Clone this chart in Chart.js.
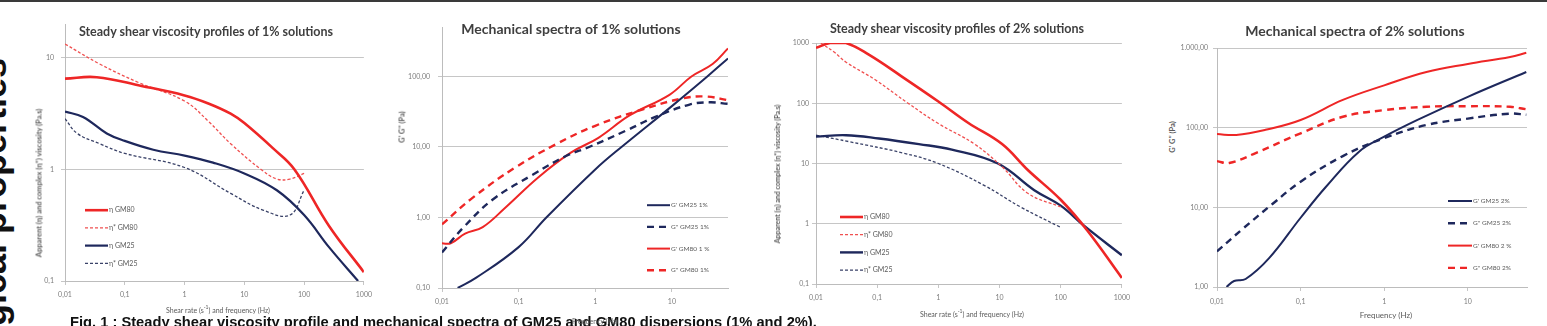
<!DOCTYPE html>
<html>
<head>
<meta charset="utf-8">
<script src="https://cdn.jsdelivr.net/npm/chart.js@4.4.0/dist/chart.umd.min.js"></script>
<style>
  body { margin: 0; width: 1547px; height: 326px; background: #fff; position: relative; overflow: hidden; font-family: Lato, "Open Sans", sans-serif; }
  .t { position: absolute; white-space: nowrap; }
  .ctitle { font-weight: bold; color: #3f3f3f; transform: translate(-50%, -50%); }
  .ytitle { font-weight: bold; color: #5a5a5a; transform: translate(-50%, -50%) rotate(-90deg); }
  .xtitle { color: #5a5a5a; transform: translate(-50%, -50%); }
  canvas { position: absolute; }
  #topline { position: absolute; left: 0; top: 0; width: 1547px; height: 2px; background: #3a3a3a; }
  #side { position: absolute; left: 0; top: 0; font-family: "Liberation Sans", Arial, sans-serif; font-weight: bold; font-size: 36px; line-height: 36px; color: #111; transform-origin: 0 0; transform: translate(-24px, 326px) rotate(-90deg); white-space: nowrap; }
  #caption { position: absolute; left: 70px; top: 314px; font-family: "Liberation Sans", Arial, sans-serif; font-weight: bold; font-size: 14.7px; line-height: 17px; color: #111; white-space: nowrap; }
</style>
</head>
<body>
<div id="topline"></div>
<div id="side">gical properties</div>

<canvas id="c1" width="353" height="293" style="left:25px;top:13px"></canvas>
<canvas id="c2" width="336" height="298" style="left:402px;top:15px"></canvas>
<canvas id="c3" width="360" height="276" style="left:776px;top:33px"></canvas>
<canvas id="c4" width="360" height="274" style="left:1177px;top:38px"></canvas>

<div class="t ctitle" style="left:206px;top:31px;font-size:12.5px">Steady shear viscosity profiles of 1% solutions</div>
<div class="t ctitle" style="left:571px;top:28px;font-size:14px">Mechanical spectra of 1% solutions</div>
<div class="t ctitle" style="left:957px;top:28px;font-size:12.5px">Steady shear viscosity profiles of 2% solutions</div>
<div class="t ctitle" style="left:1355px;top:30px;font-size:14px">Mechanical spectra of 2% solutions</div>

<div class="t ytitle" style="left:39px;top:183px;font-size:7.5px">Apparent (η) and complex (η*) viscosity (Pa.s)</div>
<div class="t ytitle" style="left:402px;top:127px;font-size:7.5px">G' G'' (Pa)</div>
<div class="t ytitle" style="left:777px;top:174px;font-size:7px">Apparent (η) and complex (η*) viscosity (Pa.s)</div>
<div class="t ytitle" style="left:1172px;top:137px;font-size:7.5px">G' G'' (Pa)</div>

<div class="t xtitle" style="left:218px;top:309px;font-size:7px">Shear rate (s<sup style="font-size:5px">-1</sup>) and frequency (Hz)</div>
<div class="t xtitle" style="left:972px;top:313px;font-size:7px">Shear rate (s<sup style="font-size:5px">-1</sup>) and frequency (Hz)</div>
<div class="t xtitle" style="left:1386px;top:315px;font-size:8px">Frequency (Hz)</div>

<div id="caption">Fig. 1 : Steady shear viscosity profile and mechanical spectra of GM25 and GM80 dispersions (1% and 2%).</div>
<div class="t xtitle" style="left:595px;top:321px;font-size:7px">Frequency (Hz)</div>

<script>
// chart 1 : steady shear, 1%
const c1_etaGM80_x = [0.01, 0.034, 0.19, 1, 2.5, 5.9, 10, 30, 69, 263, 1000];
const c1_etaGM80_y = [6.5, 6.7, 5.6, 4.6, 3.9, 3.16, 2.6, 1.55, 1.0, 0.31, 0.12];
const c1_etaStarGM80_x = [0.01, 0.038, 0.17, 1, 2.5, 5.9, 19, 35, 58, 100];
const c1_etaStarGM80_y = [13.3, 8.8, 6.0, 4.1, 2.7, 1.7, 1.0, 0.82, 0.82, 0.92];
const c1_etaGM25_x = [0.01, 0.02, 0.05, 0.1, 0.3, 1, 3, 10, 35, 100, 263, 800];
const c1_etaGM25_y = [3.3, 2.95, 2.1, 1.8, 1.5, 1.33, 1.15, 0.92, 0.65, 0.39, 0.2, 0.1];
const c1_etaStarGM25_x = [0.01, 0.016, 0.038, 0.1, 1, 5.9, 21, 58, 100];
const c1_etaStarGM25_y = [2.85, 2.1, 1.7, 1.39, 1.04, 0.61, 0.43, 0.39, 0.65];

// chart 2 : mechanical spectra, 1%
const c2_gpGM25_x = [0.016, 0.028, 0.1, 0.23, 1, 2.2, 10, 29, 54];
const c2_gpGM25_y = [0.1, 0.14, 0.38, 1.0, 4.8, 10, 38, 100, 180];
const c2_gppGM25_x = [0.01, 0.019, 0.046, 0.15, 0.42, 0.83, 2.5, 6.2, 17, 31, 54];
const c2_gppGM25_y = [0.32, 0.72, 1.8, 4.0, 7.5, 10, 17, 27, 40, 43, 41];
const c2_gpGM80_x = [0.01, 0.013, 0.02, 0.034, 0.068, 0.18, 0.48, 1.1, 2.8, 9.3, 18, 34, 54];
const c2_gpGM80_y = [0.43, 0.43, 0.59, 0.73, 1.4, 3.7, 8.3, 13.5, 28, 55, 100, 150, 250];
const c2_gppGM80_x = [0.01, 0.025, 0.09, 0.31, 1, 4.1, 14, 28, 54];
const c2_gppGM80_y = [0.8, 1.9, 5.1, 11, 20, 34, 49, 52, 46];

// chart 3 : steady shear, 2%
const c3_etaGM80_x = [0.01, 0.017, 0.031, 0.073, 0.25, 1, 3.1, 11, 29, 100, 270, 1000];
const c3_etaGM80_y = [830, 1000, 1000, 640, 280, 107, 47, 21, 7.8, 2.5, 0.78, 0.126];
const c3_etaStarGM80_x = [0.012, 0.02, 0.031, 0.093, 0.32, 1, 3.9, 11, 29, 100];
const c3_etaStarGM80_y = [1000, 700, 480, 245, 100, 46, 21, 8.8, 3.2, 1.9];
const c3_etaGM25_x = [0.01, 0.031, 0.107, 0.48, 1.66, 9.4, 37, 100, 240, 1000];
const c3_etaGM25_y = [28, 29.5, 26, 21, 17, 10, 3.6, 2.0, 0.93, 0.3];
const c3_etaStarGM25_x = [0.01, 0.035, 0.26, 1, 5.7, 22, 100];
const c3_etaStarGM25_y = [29.5, 23, 15, 10, 4.3, 1.9, 0.87];

// chart 4 : mechanical spectra, 2%
const c4_gpGM25_x = [0.013, 0.016, 0.022, 0.042, 0.1, 0.2, 0.5, 1, 2.5, 10, 50];
const c4_gpGM25_y = [1, 1.19, 1.26, 2.3, 7.4, 18, 50, 77, 125, 244, 500];
const c4_gppGM25_x = [0.01, 0.02, 0.046, 0.1, 0.32, 1, 3.2, 10, 32, 50];
const c4_gppGM25_y = [2.8, 5.3, 11, 21, 44, 74, 108, 130, 150, 145];
const c4_gpGM80_x = [0.01, 0.017, 0.038, 0.1, 0.32, 1, 3.2, 10, 32, 50];
const c4_gpGM80_y = [83, 81, 94, 125, 223, 340, 500, 630, 770, 870];
const c4_gppGM80_x = [0.01, 0.014, 0.029, 0.1, 0.32, 1, 3.2, 10, 32, 50];
const c4_gppGM80_y = [38, 36, 48, 85, 137, 166, 183, 186, 183, 170];

// tick values + labels (comma decimals like the original)
const xTicksShear = [0.01, 0.1, 1, 10, 100, 1000];
const xLabelsShear = ["0,01", "0,1", "1", "10", "100", "1000"];
const xTicksFreq = [0.01, 0.1, 1, 10];
const xLabelsFreq = ["0,01", "0,1", "1", "10"];
const yTicks1 = [0.1, 1, 10];
const yLabels1 = ["0,1", "1", "10"];
const yTicks2 = [0.1, 1, 10, 100];
const yLabels2 = ["0,10", "1,00", "10,00", "100,00"];
const yTicks3 = [0.1, 1, 10, 100, 1000];
const yLabels3 = ["0,1", "1", "10", "100", "1000"];
const yTicks4 = [1, 10, 100, 1000];
const yLabels4 = ["1,00", "10,00", "100,00", "1.000,00"];

const RED = "rgb(238,38,38)";
const RED_DASH = "rgb(240,80,80)";
const NAVY = "rgb(30,40,92)";
const NAVY_DASH = "rgb(58,66,104)";

function pts(xs, ys) {
  return xs.map(function (x, i) { return { x: x, y: ys[i] }; });
}

function line(label, xs, ys, color, width, dash) {
  return {
    label: label,
    data: pts(xs, ys),
    borderColor: color,
    borderWidth: width,
    borderDash: dash,
    pointRadius: 0,
    fill: false,
    tension: 0.4,
  };
}

function logAxis(min, max, tickVals, tickLabels, size, pad, isY) {
  return {
    type: "logarithmic",
    min: min,
    max: max,
    afterBuildTicks: function (s) {
      s.ticks = tickVals.map(function (v) { return { value: v }; });
    },
    afterFit: function (s) {
      if (isY) s.width = size; else s.height = size;
    },
    ticks: {
      autoSkip: false,
      maxRotation: 0,
      padding: pad,
      color: "#7c7c7c",
      font: { family: "Lato", size: 7 },
      callback: function (v, i) { return tickLabels[i]; },
    },
    grid: { drawOnChartArea: isY, color: "#c6c6c6", tickLength: 4, lineWidth: 1 },
    border: { color: "#bcbcbc" },
  };
}

// legend drawn inside the plot area, like the excel one
const areaLegend = {
  id: "areaLegend",
  afterDatasetsDraw: function (chart, args, opts) {
    let ctx = chart.ctx;
    let a = chart.chartArea;
    ctx.save();
    ctx.font = opts.size + "px Lato";
    ctx.textBaseline = "middle";
    chart.data.datasets.forEach(function (ds, i) {
      let x = a.left + opts.x;
      let y = a.top + opts.y + i * opts.dy;
      ctx.strokeStyle = ds.borderColor;
      ctx.lineWidth = ds.borderWidth;
      ctx.setLineDash(ds.borderDash || []);
      ctx.beginPath();
      ctx.moveTo(x, y);
      ctx.lineTo(x + opts.len, y);
      ctx.stroke();
      ctx.setLineDash([]);
      ctx.fillStyle = "#5a5a5a";
      ctx.fillText(ds.label, x + opts.len + 1, y);
    });
    ctx.restore();
  },
};

function makeChart(id, datasets, xAxis, yAxis, legendOpts) {
  return new Chart(id, {
    type: "line",
    data: { datasets: datasets },
    options: {
      responsive: false,
      animation: false,
      devicePixelRatio: 1,
      layout: { padding: { top: 10, right: 10, left: 0, bottom: 0 } },
      scales: { x: xAxis, y: yAxis },
      plugins: {
        legend: { display: false },
        tooltip: { enabled: false },
        areaLegend: legendOpts,
      },
    },
    plugins: [areaLegend],
  });
}

makeChart("c1", [
  line("η GM80", c1_etaGM80_x, c1_etaGM80_y, RED, 2.6, []),
  line("η* GM80", c1_etaStarGM80_x, c1_etaStarGM80_y, RED_DASH, 1.3, [3, 2]),
  line("η GM25", c1_etaGM25_x, c1_etaGM25_y, NAVY, 2.2, []),
  line("η* GM25", c1_etaStarGM25_x, c1_etaStarGM25_y, NAVY_DASH, 1.3, [3, 2]),
], logAxis(0.01, 1000, xTicksShear, xLabelsShear, 25, 6, false),
   logAxis(0.1, 20, yTicks1, yLabels1, 40, 7, true),
   { x: 20, y: 186, dy: 17.7, len: 23, size: 7 });

makeChart("c2", [
  line("G' GM25 1%", c2_gpGM25_x, c2_gpGM25_y, NAVY, 2, []),
  line("G'' GM25 1%", c2_gppGM25_x, c2_gppGM25_y, NAVY, 2.4, [7, 5]),
  line("G' GM80 1 %", c2_gpGM80_x, c2_gpGM80_y, RED, 2, []),
  line("G'' GM80 1%", c2_gppGM80_x, c2_gppGM80_y, RED, 2.4, [7, 5]),
], logAxis(0.01, 54, xTicksFreq, xLabelsFreq, 25, 6, false),
   logAxis(0.1, 500, yTicks2, yLabels2, 40, 8, true),
   { x: 205, y: 178, dy: 21.7, len: 23, size: 6.5 });

makeChart("c3", [
  line("η GM80", c3_etaGM80_x, c3_etaGM80_y, RED, 2.6, []),
  line("η* GM80", c3_etaStarGM80_x, c3_etaStarGM80_y, RED_DASH, 1.3, [3, 2]),
  line("η GM25", c3_etaGM25_x, c3_etaGM25_y, NAVY, 2.4, []),
  line("η* GM25", c3_etaStarGM25_x, c3_etaStarGM25_y, NAVY_DASH, 1.3, [3, 2]),
], logAxis(0.01, 1000, xTicksShear, xLabelsShear, 25, 6, false),
   logAxis(0.1, 1000, yTicks3, yLabels3, 40, 3, true),
   { x: 24, y: 174, dy: 17.7, len: 23, size: 7 });

makeChart("c4", [
  line("G' GM25 2%", c4_gpGM25_x, c4_gpGM25_y, NAVY, 2, []),
  line("G'' GM25 2%", c4_gppGM25_x, c4_gppGM25_y, NAVY, 2.4, [7, 5]),
  line("G' GM80 2 %", c4_gpGM80_x, c4_gpGM80_y, RED, 2, []),
  line("G'' GM80 2%", c4_gppGM80_x, c4_gppGM80_y, RED, 2.4, [7, 5]),
], logAxis(0.01, 51, xTicksFreq, xLabelsFreq, 25, 7, false),
   logAxis(1, 1000, yTicks4, yLabels4, 40, 5, true),
   { x: 231, y: 153, dy: 22.3, len: 24, size: 6.5 });
</script>
</body>
</html>
